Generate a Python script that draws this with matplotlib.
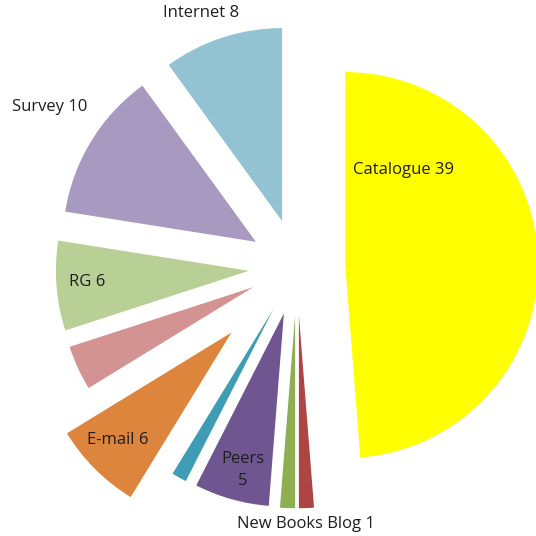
import numpy as np
import matplotlib.pyplot as plt

# data, clockwise from 12 o'clock
sources = ['Catalogue', 'New Books Blog', 'Other A', 'Peers', 'Other B',
           'E-mail', 'Other C', 'RG', 'Survey', 'Internet']
counts = [39, 1, 1, 5, 1, 6, 3, 6, 10, 8]
labels = ['Catalogue 39', 'New Books Blog 1', '', 'Peers\n5', '',
          'E-mail 6', '', 'RG 6', 'Survey 10', 'Internet 8']
colors = ['#FFFF00', '#AC4543', '#8DAF51', '#6F5690', '#3E9DB5',
          '#DD853C', '#D49393', '#B8CF96', '#A899C1', '#93C3D3']

# explode per slice (E-mail pulled out further)
explode = [0.25, 0.25, 0.25, 0.25, 0.25, 0.48, 0.25, 0.25, 0.25, 0.25]

# label placement (radius, angle in degrees), radius in pie radii
label_pos = [(0.748, 42.2), (1.332, 272.0), None, (1.086, 255.1), None,
             (1.290, 224.0), None, (1.091, 184.1), (1.525, 147.1), (1.407, 110.7)]

fig_px = 536
fig_dpi = 100
cx, cy = 297, 267      # pie centre in pixels
r_px = 193             # pie radius in pixels
font_size = 12
text_color = '#1e1e1e'

fig = plt.figure(figsize=(fig_px / fig_dpi, fig_px / fig_dpi), dpi=fig_dpi)
ax = fig.add_axes([0, 0, 1, 1])
ax.pie(counts, colors=colors, startangle=90, counterclock=False,
       explode=explode, radius=1, wedgeprops=dict(linewidth=0))

for lab, pos in zip(labels, label_pos):
    if pos is None:
        continue
    r, a = pos
    ax.text(r * np.cos(np.radians(a)), r * np.sin(np.radians(a)), lab,
            ha='center', va='center', fontsize=font_size, color=text_color,
            family='Open Sans', linespacing=1.5)

ax.set_xlim(-cx / r_px, (fig_px - cx) / r_px)
ax.set_ylim(-(fig_px - cy) / r_px, cy / r_px)
ax.set_aspect('equal')
ax.axis('off')

plt.savefig('out.png', dpi=fig_dpi)
plt.close('all')
